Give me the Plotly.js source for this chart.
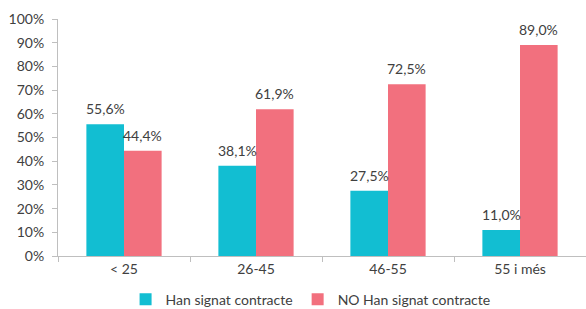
<!DOCTYPE html>
<html><head><meta charset="utf-8">
<script src="https://cdn.plot.ly/plotly-3.0.1.min.js"></script>
<style>html,body{margin:0;padding:0;background:#fff}</style>
</head><body>
<div id="chart" style="width:586px;height:309px"></div>
<script>
const categories = ["< 25", "26-45", "46-55", "55 i més"];
const signat = [55.6, 38.1, 27.5, 11.0];
const noSignat = [44.4, 61.9, 72.5, 89.0];
const seriesNames = ["Han signat contracte", "NO Han signat contracte"];
const yTicks = [0,10,20,30,40,50,60,70,80,90,100];
const yTickLabels = ["0%","10%","20%","30%","40%","50%","60%","70%","80%","90%","100%"];

const fmt = v => v.toFixed(1).replace('.', ',') + '%';
const font = {family: 'Lato, "Open Sans", sans-serif', size: 14, color: '#404040'};
const colors = ['#12BED2', '#F2707E'];

const traces = [
  {type:'bar', name:seriesNames[0], x:categories, y:signat, marker:{color:colors[0]}, hoverinfo:'none'},
  {type:'bar', name:seriesNames[1], x:categories, y:noSignat, marker:{color:colors[1]}, hoverinfo:'none'}
];

const bargap = 0.43;
const plotW = 586 - 58;
const barPx = plotW / categories.length * (1 - bargap) / 2;
const annotations = [];
[signat, noSignat].forEach((vals, s) => {
  vals.forEach((v, i) => {
    annotations.push({x: categories[i], y: v, xref:'x', yref:'y', text: fmt(v), showarrow:false,
      xshift: (s === 0 ? -1 : 1) * barPx / 2, yanchor:'bottom', yshift: 5, font: font});
  });
});

const layout = {
  width:586, height:309,
  margin:{l:58, r:0, t:19, b:53},
  paper_bgcolor:'#fff', plot_bgcolor:'#fff',
  font: font,
  barmode:'group', bargap:bargap, bargroupgap:0,
  showlegend:true,
  annotations: annotations,
  legend:{orientation:'h', x:0.53, xref:'container', xanchor:'center', y:0.03, yref:'container', yanchor:'middle', font:font, traceorder:'normal'},
  xaxis:{showline:true, linecolor:'#bfbfbf', linewidth:1, ticks:'outside', ticklen:5, tickcolor:'#bfbfbf',
         tickson:'boundaries', showgrid:false, tickfont:font, zeroline:false, automargin:false},
  yaxis:{range:[0,100], tickmode:'array', tickvals:yTicks, ticktext:yTickLabels, showline:true, linecolor:'#bfbfbf', linewidth:1,
         ticks:'outside', ticklen:5, tickcolor:'#bfbfbf', ticklabelstandoff:5, showgrid:false, zeroline:false, tickfont:font, automargin:false}
};
Plotly.newPlot('chart', traces, layout, {staticPlot:true});
</script>
</body></html>
